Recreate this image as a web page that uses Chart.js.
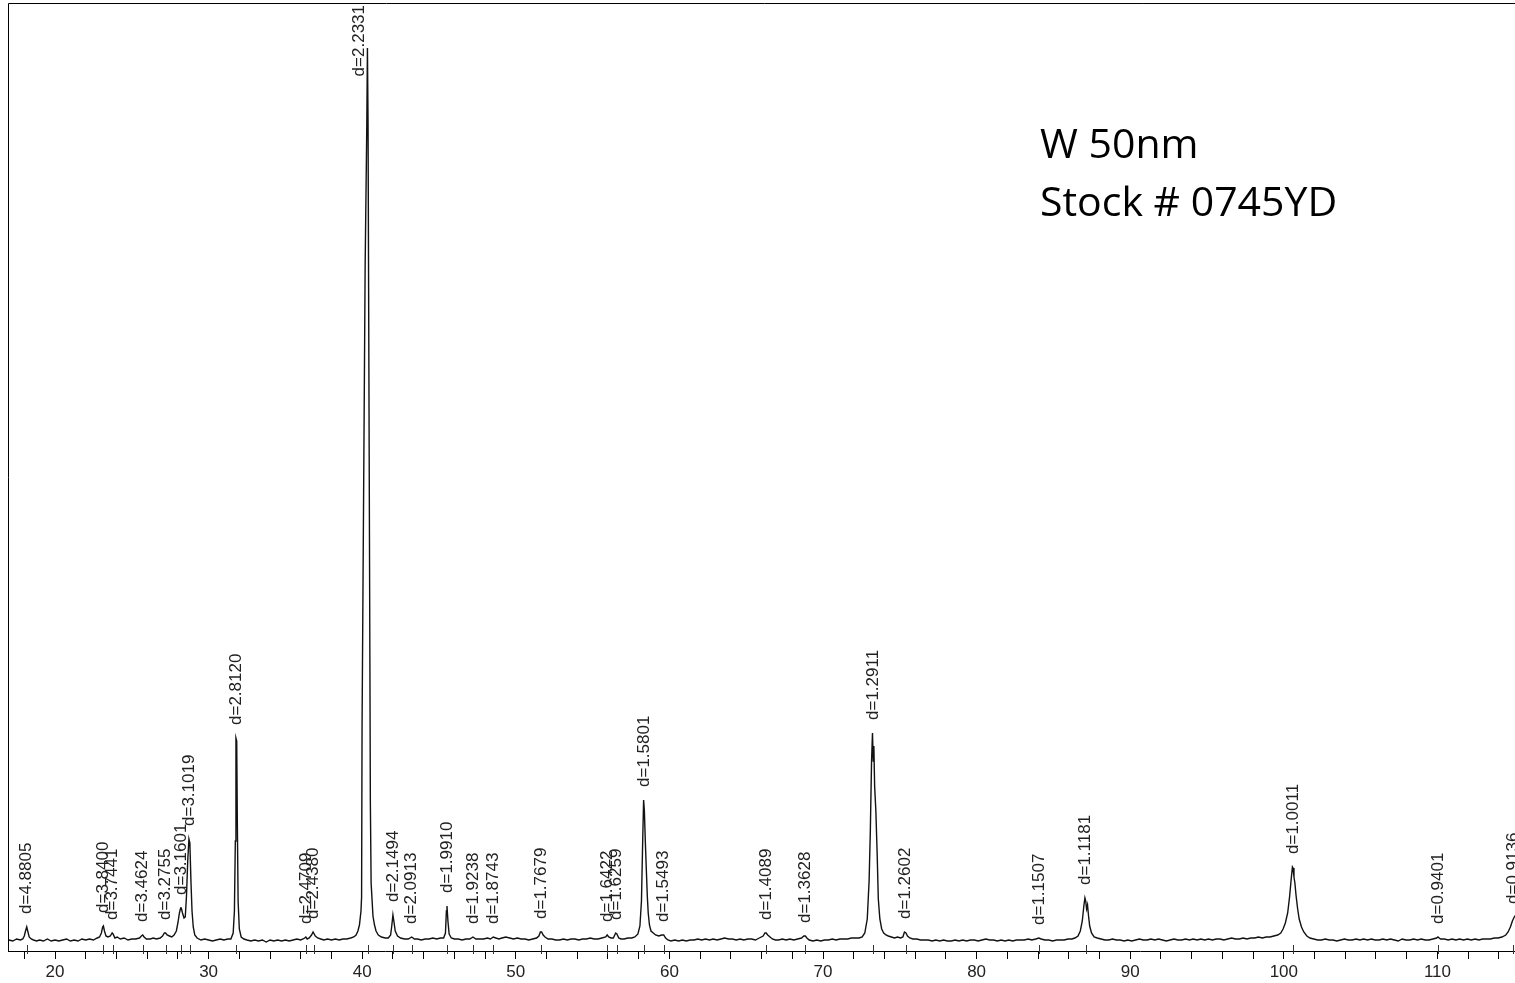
<!DOCTYPE html>
<html>
<head>
<meta charset="utf-8">
<script src="https://cdn.jsdelivr.net/npm/chart.js@4.4.1/dist/chart.umd.min.js"></script>
<style>
  html, body { margin: 0; padding: 0; background: #fff; overflow: hidden; }
  #wrap { position: absolute; left: 0; top: 0; width: 1520px; height: 983px; }
</style>
</head>
<body>
<div id="wrap"><canvas id="c" width="1520" height="983"></canvas></div>
<script>
// 2-theta (deg) , intensity (arb.)
const scan = [
[17.0,11],[17.25,10],[17.5,12],[17.75,11],
[17.9,12],[18.0,15],[18.08,20],[18.16,24],[18.24,19],[18.32,14],[18.45,12],[18.6,11],
[18.8,10],[19.0,11],[19.25,10],[19.5,12],[19.75,10],[20.0,11],[20.25,10],[20.5,11],[20.75,12],[21.0,10],[21.25,11],[21.5,10],[21.75,12],[22.0,11],[22.25,12],[22.5,11],[22.75,13],
[22.9,14],[23.02,18],[23.1,24],[23.15,25],[23.22,20],[23.32,15],[23.45,14],[23.6,15],[23.72,18],[23.78,17],[23.9,13],[24.05,14],[24.25,12],[24.5,13],[24.75,11],[25.0,12],[25.25,12],[25.5,13],[25.62,15],[25.71,16],[25.8,14],[25.95,12],[26.2,12],[26.4,13],[26.6,12],[26.85,13],
[27.0,15],[27.12,18],[27.2,18],[27.3,16],[27.45,15],[27.6,14],[27.75,16],[27.9,20],[28.0,28],[28.1,38],[28.18,43],[28.22,43],[28.3,38],[28.4,33],[28.48,34],[28.56,55],[28.64,90],[28.72,112],[28.78,108],[28.85,70],[28.92,40],[29.0,24],[29.1,16],[29.25,13],
[29.5,11],[29.75,12],[30.0,11],[30.25,10],[30.5,11],[30.75,12],[31.0,11],[31.25,12],[31.45,12],[31.6,18],[31.68,40],[31.74,110],[31.78,213],[31.83,210],[31.87,130],[31.92,50],[32.0,22],[32.12,14],[32.3,12],
[32.5,11],[32.75,10],[33.0,11],[33.25,10],[33.5,11],[33.75,9],[34.0,11],[34.25,10],[34.5,11],[34.75,10],[35.0,11],[35.25,10],[35.5,11],[35.75,12],[36.0,11],[36.15,12],[36.25,13],[36.33,14],[36.42,12],[36.55,13],[36.7,16],[36.8,19],[36.86,19],[36.95,15],[37.1,13],[37.3,12],
[37.5,11],[37.75,12],[38.0,11],[38.25,12],[38.5,11],[38.75,12],[39.0,12],[39.25,13],[39.45,14],[39.6,16],[39.72,20],[39.82,26],[39.92,40],[39.96,54],[39.99,224],[40.19,683],[40.3,828],[40.34,903],[40.38,828],[40.5,291],[40.53,150],[40.58,68],[40.7,35],[40.8,26],[40.9,20],[41.05,16],[41.25,14],
[41.5,13],[41.7,13],[41.85,16],[41.93,26],[42.0,36],[42.06,30],[42.15,20],[42.3,15],[42.5,13],[42.75,12],[43.0,12],[43.22,14],[43.4,12],[43.6,12],[43.85,11],[44.1,12],[44.35,12],[44.6,13],[44.85,12],[45.1,13],[45.3,13],[45.42,18],[45.48,40],[45.52,45],[45.58,30],[45.66,17],[45.8,13],
[46.0,12],[46.25,12],[46.5,11],[46.75,12],[47.0,12],[47.21,14],[47.4,12],[47.65,12],[47.9,12],[48.15,13],[48.35,12],[48.53,14],[48.7,13],[48.9,12],[49.1,13],[49.35,14],[49.6,13],[49.85,12],[50.1,13],[50.35,12],[50.6,12],[50.85,11],[51.1,12],[51.35,13],[51.5,15],[51.6,19],[51.68,19],[51.78,16],[51.9,14],
[52.1,12],[52.35,12],[52.6,11],[52.85,11],[53.1,12],[53.35,11],[53.6,12],[53.85,12],[54.1,11],[54.35,12],[54.6,12],[54.85,13],[55.1,12],[55.35,12],[55.6,13],[55.85,14],[55.95,16],[56.05,14],[56.2,13],[56.35,13],[56.5,18],[56.58,17],[56.7,13],[56.85,12],
[57.05,12],[57.3,13],[57.55,13],[57.75,14],[57.95,17],[58.08,25],[58.18,50],[58.26,110],[58.32,151],[58.37,140],[58.43,110],[58.5,80],[58.56,55],[58.62,38],[58.7,26],[58.8,20],[58.95,18],[59.1,16],[59.3,15],[59.5,16],[59.63,16],[59.75,13],[59.9,11],
[60.1,10],[60.35,11],[60.6,10],[60.85,11],[61.1,10],[61.35,11],[61.6,11],[61.85,12],[62.1,11],[62.35,12],[62.6,11],[62.85,12],[63.1,11],[63.35,12],[63.6,13],[63.85,12],[64.1,12],[64.35,11],[64.6,12],[64.85,11],[65.1,12],[65.35,12],[65.6,11],[65.85,13],
[66.1,15],[66.22,18],[66.3,18],[66.4,16],[66.55,14],[66.7,12],[66.9,11],[67.1,11],[67.35,12],[67.6,11],[67.85,12],[68.1,11],[68.35,12],[68.6,13],[68.75,15],[68.85,15],[68.95,13],[69.1,11],[69.35,10],[69.6,11],[69.85,10],
[70.1,11],[70.35,11],[70.6,12],[70.85,11],[71.1,12],[71.35,12],[71.6,12],[71.85,13],[72.1,13],[72.35,13],[72.55,14],[72.72,18],[72.88,32],[73.0,70],[73.08,120],[73.16,190],[73.22,218],[73.27,190],[73.31,205],[73.36,165],[73.44,140],[73.52,100],[73.6,52],[73.7,32],[73.82,22],[73.95,18],
[74.1,16],[74.25,15],[74.45,14],[74.65,13],[74.85,14],[75.05,13],[75.2,14],[75.3,19],[75.4,18],[75.5,15],[75.65,13],[75.85,12],[76.1,12],[76.35,11],[76.6,11],[76.85,11],[77.1,10],[77.35,11],[77.6,10],[77.85,11],
[78.1,10],[78.35,10],[78.6,11],[78.85,10],[79.1,11],[79.35,10],[79.6,11],[79.85,11],[80.1,10],[80.35,11],[80.6,12],[80.85,11],[81.1,11],[81.35,10],[81.6,11],[81.85,10],[82.1,11],[82.35,10],[82.6,11],[82.85,11],[83.1,11],[83.35,12],[83.6,11],[83.85,12],[84.05,13],[84.2,12],[84.45,11],[84.7,11],[84.95,10],
[85.2,11],[85.45,11],[85.7,11],[85.95,12],[86.2,12],[86.4,13],[86.6,15],[86.75,20],[86.88,30],[86.98,45],[87.05,53],[87.1,50],[87.16,42],[87.22,46],[87.28,36],[87.36,25],[87.48,18],[87.65,14],[87.85,13],
[88.1,12],[88.35,11],[88.6,11],[88.85,12],[89.1,11],[89.35,11],[89.6,10],[89.85,11],[90.1,10],[90.35,11],[90.6,12],[90.85,11],[91.1,11],[91.35,12],[91.6,11],[91.85,12],[92.1,11],[92.35,10],[92.6,11],[92.85,12],[93.1,11],[93.35,11],[93.6,12],[93.85,11],
[94.1,12],[94.35,11],[94.6,12],[94.85,11],[95.1,12],[95.35,11],[95.6,12],[95.85,12],[96.1,11],[96.35,12],[96.6,13],[96.85,12],[97.1,12],[97.35,13],[97.6,12],[97.85,13],[98.1,13],[98.35,14],[98.6,13],[98.85,14],[99.1,14],[99.35,15],[99.6,16],[99.8,18],[99.95,22],
[100.1,28],[100.25,38],[100.38,55],[100.48,72],[100.56,84],[100.6,83],[100.66,74],[100.72,68],[100.8,55],[100.9,42],[101.0,32],[101.15,24],[101.3,19],[101.5,15],[101.7,13],[101.95,12],
[102.2,11],[102.45,11],[102.7,12],[102.95,11],[103.2,11],[103.45,10],[103.7,11],[103.95,12],[104.2,11],[104.45,11],[104.7,12],[104.95,11],[105.2,12],[105.45,11],[105.7,12],[105.95,11],[106.2,11],[106.45,12],[106.7,11],[106.95,12],
[107.2,11],[107.45,10],[107.7,12],[107.95,11],[108.2,11],[108.45,12],[108.7,11],[108.95,12],[109.2,11],[109.45,11],[109.7,12],[109.95,13],[110.03,14],[110.2,12],[110.45,12],[110.7,11],[110.95,12],
[111.2,11],[111.45,12],[111.7,11],[111.95,12],[112.2,11],[112.45,12],[112.7,11],[112.95,12],[113.2,12],[113.45,12],[113.7,13],[113.95,13],[114.2,14],[114.45,16],[114.6,19],[114.75,24],[114.88,30],[115.0,34],[115.1,36]
];

const peakTheta = [18.16, 23.15, 23.75, 25.71, 27.20, 28.22, 28.76, 31.80, 36.33, 36.84, 40.36, 42.00, 43.22, 45.52, 47.21, 48.53, 51.66, 55.95, 56.56, 58.35, 59.63, 66.29, 68.84, 73.25, 75.37, 84.05, 87.09, 100.61, 110.03, 114.93];
const peakLabels = ["d=4.8805","d=3.8400","d=3.7441","d=3.4624","d=3.2755","d=3.1601","d=3.1019","d=2.8120","d=2.4709","d=2.4380","d=2.2331","d=2.1494","d=2.0913","d=1.9910","d=1.9238","d=1.8743","d=1.7679","d=1.6422","d=1.6259","d=1.5801","d=1.5493","d=1.4089","d=1.3628","d=1.2911","d=1.2602","d=1.1507","d=1.1181","d=1.0011","d=0.9401","d=0.9136"];
const tickLabelValues = [20, 30, 40, 50, 60, 70, 80, 90, 100, 110];
const noteLines = ["W 50nm", "Stock # 0745YD"];

const LABEL_FONT = '17px "Liberation Sans", Arial, sans-serif';

const decor = {
  id: 'decor',
  afterDatasetsDraw(chart) {
    const ctx = chart.ctx, a = chart.chartArea;
    const xs = chart.scales.x, ys = chart.scales.y;
    ctx.save();
    // frame (left + top)
    ctx.strokeStyle = '#000';
    ctx.lineWidth = 1;
    ctx.beginPath();
    ctx.moveTo(Math.round(a.left) + 0.5, Math.round(a.bottom));
    ctx.lineTo(Math.round(a.left) + 0.5, Math.round(a.top) + 0.5);
    ctx.lineTo(a.right + 5, Math.round(a.top) + 0.5);
    ctx.stroke();
    // peak markers
    ctx.strokeStyle = '#333';
    ctx.beginPath();
    peakTheta.forEach(t => {
      const x = Math.round(xs.getPixelForValue(t)) + 0.5;
      ctx.moveTo(x, a.bottom - 6);
      ctx.lineTo(x, a.bottom + 3);
    });
    ctx.stroke();
    // d labels
    ctx.font = LABEL_FONT;
    ctx.fillStyle = '#222';
    ctx.textAlign = 'left';
    ctx.textBaseline = 'middle';
    peakTheta.forEach((t, i) => {
      let mx = 0;
      scan.forEach(p => { if (Math.abs(p[0] - t) <= 0.1 && p[1] > mx) mx = p[1]; });
      let x = xs.getPixelForValue(t);
      let yb = ys.getPixelForValue(mx) - 13;
      const w = ctx.measureText(peakLabels[i]).width;
      if (yb - w < a.top + 2) { yb = a.top + 2 + w; x -= 8; }
      ctx.save();
      ctx.translate(x, yb);
      ctx.rotate(-Math.PI / 2);
      ctx.fillText(peakLabels[i], 0, 0);
      ctx.restore();
    });
    // note
    ctx.font = '41px "Open Sans", "Noto Sans", sans-serif';
    ctx.fillStyle = '#000';
    ctx.textBaseline = 'alphabetic';
    ctx.fillText(noteLines[0], 1040, 158);
    ctx.fillText(noteLines[1], 1040, 216);
    ctx.restore();
  }
};

new Chart(document.getElementById('c'), {
  type: 'scatter',
  data: {
    datasets: [{
      data: scan.map(p => ({ x: p[0], y: p[1] })),
      showLine: true,
      borderColor: '#111',
      borderWidth: 1.4,
      pointRadius: 0,
      tension: 0
    }]
  },
  options: {
    responsive: false,
    animation: false,
    layout: { padding: { left: 8, top: 3, right: 3, bottom: 0 } },
    plugins: { legend: { display: false }, tooltip: { enabled: false }, title: { display: false } },
    scales: {
      x: {
        type: 'linear',
        min: 16.94,
        max: 115.18,
        afterFit: s => { s.height = 32; },
        border: { display: true, color: '#000', width: 1 },
        grid: { drawOnChartArea: false, drawTicks: true, tickLength: 8, color: '#000' },
        ticks: {
          stepSize: 2,
          includeBounds: false,
          autoSkip: false,
          maxRotation: 0,
          padding: 3,
          color: '#222',
          font: { family: '"Liberation Sans", Arial, sans-serif', size: 17 },
          callback: v => tickLabelValues.includes(v) ? String(v) : ''
        }
      },
      y: { display: false, min: 0, max: 948 }
    }
  },
  plugins: [decor]
});
</script>
</body>
</html>
